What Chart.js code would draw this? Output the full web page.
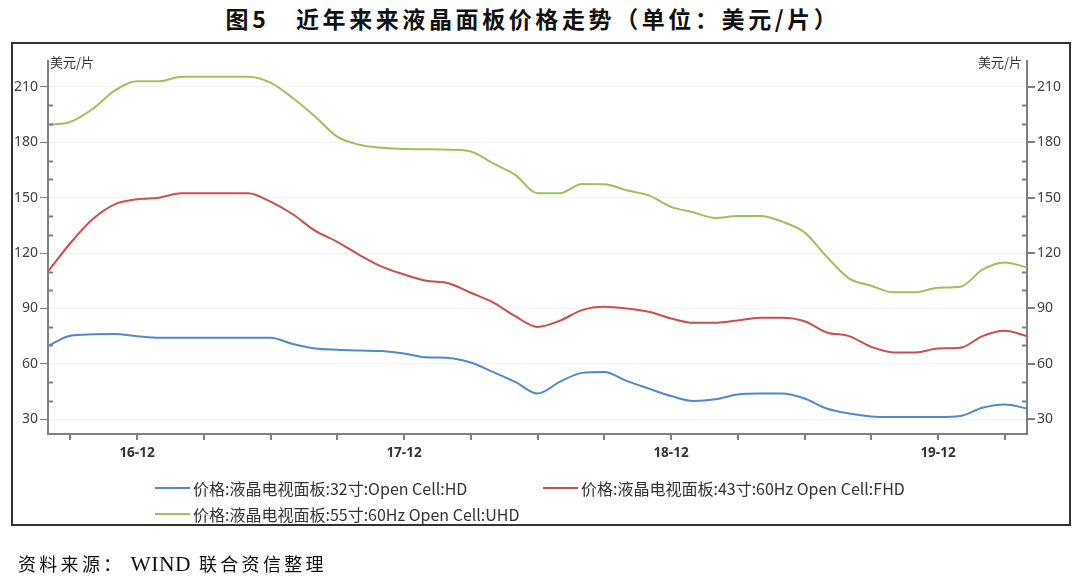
<!DOCTYPE html>
<html>
<head>
<meta charset="utf-8">
<script src="https://cdn.jsdelivr.net/npm/chart.js@4.4.1/dist/chart.umd.min.js"></script>
<style>
  html,body{margin:0;padding:0;background:#fff;}
  body{width:1080px;height:581px;position:relative;overflow:hidden;font-family:"Noto Sans CJK SC","Noto Sans",sans-serif;}
  #title{position:absolute;left:0;top:2px;width:1066px;text-align:center;font-size:23px;font-weight:bold;color:#111;letter-spacing:3.6px;line-height:32px;}
  #box{position:absolute;left:11px;top:42px;width:1056px;height:480px;border:2px solid #333;}
  #wrap{position:absolute;left:0;top:0;width:1080px;height:581px;}
  .unit{position:absolute;top:53px;font-size:13px;color:#333;line-height:18px;}
  #legend .item{position:absolute;display:flex;align-items:center;height:20px;font-size:16px;color:#333;white-space:nowrap;}
  #legend .swatch{display:inline-block;width:35px;height:2px;margin-right:3px;}
  #source{position:absolute;left:18px;top:551px;font-size:18px;color:#111;font-family:"Liberation Serif","Noto Sans CJK SC",serif;line-height:26px;white-space:nowrap;}
  #source .cjk{letter-spacing:3.3px;}
  #source .lat{display:inline-block;font-size:21.5px;letter-spacing:0.5px;margin:0 8px 0 6px;}
</style>
</head>
<body>
<div id="title">图5　近年来来液晶面板价格走势（单位：美元/片）</div>
<div id="box"></div>
<div id="wrap"><canvas id="c" width="1080" height="581"></canvas></div>
<div class="unit" style="left:50px;">美元/片</div>
<div class="unit" style="left:978px;">美元/片</div>
<div id="legend"></div>
<div id="source"><span class="cjk">资料来源：</span><span class="lat">WIND</span><span class="cjk">联合资信整理</span></div>
<script>
const months = [
  '2016-08','2016-09','2016-10','2016-11','2016-12',
  '2017-01','2017-02','2017-03','2017-04','2017-05','2017-06','2017-07','2017-08','2017-09','2017-10','2017-11','2017-12',
  '2018-01','2018-02','2018-03','2018-04','2018-05','2018-06','2018-07','2018-08','2018-09','2018-10','2018-11','2018-12',
  '2019-01','2019-02','2019-03','2019-04','2019-05','2019-06','2019-07','2019-08','2019-09','2019-10','2019-11','2019-12',
  '2020-01','2020-02','2020-03','2020-04'
];
const seriesNames = [
  '价格:液晶电视面板:32寸:Open Cell:HD',
  '价格:液晶电视面板:43寸:60Hz Open Cell:FHD',
  '价格:液晶电视面板:55寸:60Hz Open Cell:UHD'
];
const hd32 = [69.7,75.2,76.0,76.2,75.0, 74.1,74.1,74.1,74.1,74.1,74.1,70.7,68.3,67.6,67.2,66.9,65.6,
  63.5,63.2,60.7,55.6,50.2,43.9,50.2,55.1,55.6,50.8,46.6,42.6,
  39.9,40.8,43.4,43.9,43.9,41.2,35.8,33.1,31.5,31.2,31.2,31.2,
  31.8,36.2,38.0,35.8];
const fhd43 = [110,125.3,138.3,146.4,149.1, 150.0,152.4,152.4,152.4,152.4,147.8,141.0,132.1,126.1,118.9,112.6,108.4,
  105.0,103.6,98.5,93.3,85.8,80.0,83.3,89.1,90.9,90.0,88.2,84.6,
  82.2,82.2,83.5,85.0,85.0,83.1,77.0,75.0,69.2,66.2,66.2,68.3,
  68.7,75.0,77.9,75.0];
const uhd55 = [189.5,191,198,208,213, 213,215.5,215.5,215.5,215.5,212.3,204,194,183,178.6,177,176.3,
  176.2,176,175,168.6,162.3,152.4,152.4,157.4,157.2,154,151.2,145,
  142.1,139,140,140,137,131.2,118,106.3,102.3,98.7,98.7,101.2,
  101.7,111,114.9,112.2];
const yMajorTicks = [30,60,90,120,150,180,210];
const yMinorTicks = [40,50,70,80,100,110,130,140,160,170,190,200];

const monthIndex = s => { const [y,m] = s.split('-').map(Number); return (y-2016)*12 + (m-1); };
const xs = months.map(monthIndex);
const toPts = arr => arr.map((v,i)=>({x:xs[i], y:v}));
const colors = ['#5189cf','#c9504e','#9cc35a'];
const xQuarterTicks = xs.filter(v => (v % 12) % 3 === 2);

const minorTicks = {
  id:'minorTicks',
  afterDraw(chart){
    const ctx = chart.ctx, y = chart.scales.y, y1 = chart.scales.y1;
    ctx.save();
    ctx.strokeStyle = '#808080'; ctx.lineWidth = 2;
    yMinorTicks.forEach(v=>{
      const p = Math.round(y.getPixelForValue(v)) + 0.5;
      ctx.beginPath(); ctx.moveTo(y.right, p); ctx.lineTo(y.right+5, p); ctx.stroke();
      ctx.beginPath(); ctx.moveTo(y1.left, p); ctx.lineTo(y1.left-5, p); ctx.stroke();
    });
    ctx.restore();
  }
};

const yCommon = {
  min:22, max:224,
  afterBuildTicks: s => { s.ticks = yMajorTicks.map(v=>({value:v})); },
  border:{color:'#808080', width:2},
  ticks:{color:'#404040', font:{family:'"Noto Sans", sans-serif', size:14}, padding:2}
};

const chart = new Chart(document.getElementById('c'), {
  type:'line',
  data:{
    datasets:[
      {label:seriesNames[0], data:toPts(hd32), borderColor:colors[0], backgroundColor:colors[0]},
      {label:seriesNames[1], data:toPts(fhd43), borderColor:colors[1], backgroundColor:colors[1]},
      {label:seriesNames[2], data:toPts(uhd55), borderColor:colors[2], backgroundColor:colors[2]}
    ]
  },
  options:{
    responsive:false, animation:false,
    devicePixelRatio:1,
    layout:{padding:{top:61,left:0,right:0,bottom:0}},
    elements:{line:{borderWidth:2, cubicInterpolationMode:'monotone'}, point:{radius:0}},
    plugins:{legend:{display:false}, tooltip:{enabled:false}},
    scales:{
      x:{
        type:'linear', min:xs[0], max:xs[xs.length-1],
        afterBuildTicks: s => { s.ticks = xQuarterTicks.map(v=>({value:v})); },
        afterFit: s => { s.height = 147; },
        border:{color:'#808080', width:2},
        grid:{drawOnChartArea:false, tickLength:6, tickColor:'#808080', lineWidth:2},
        ticks:{
          autoSkip:false, maxRotation:0, padding:5,
          color:'#333', font:{family:'"Noto Sans", sans-serif', size:13.5, weight:'bold'},
          callback: v => (v % 12 === 11) ? (16 + Math.floor(v/12)) + '-12' : ''
        }
      },
      y:Object.assign({}, yCommon, {
        position:'left',
        afterFit: s => { s.width = 48; },
        grid:{color:'#f2f2f2', lineWidth:1, tickColor:'#808080', tickLength:8, drawTicks:true}
      }),
      y1:Object.assign({}, yCommon, {
        position:'right',
        afterFit: s => { s.width = 53; },
        grid:{drawOnChartArea:false, tickColor:'#808080', tickLength:8, lineWidth:2}
      })
    }
  },
  plugins:[minorTicks]
});

// HTML legend built from the chart's datasets
const legendPos = [{left:155, top:478},{left:543, top:478},{left:155, top:504}];
const legend = document.getElementById('legend');
chart.data.datasets.forEach((ds,i)=>{
  const it = document.createElement('div');
  it.className = 'item';
  it.style.left = legendPos[i].left + 'px';
  it.style.top = legendPos[i].top + 'px';
  const sw = document.createElement('span');
  sw.className = 'swatch'; sw.style.background = ds.borderColor;
  const tx = document.createElement('span');
  tx.textContent = ds.label;
  it.appendChild(sw); it.appendChild(tx);
  legend.appendChild(it);
});
</script>
</body>
</html>
